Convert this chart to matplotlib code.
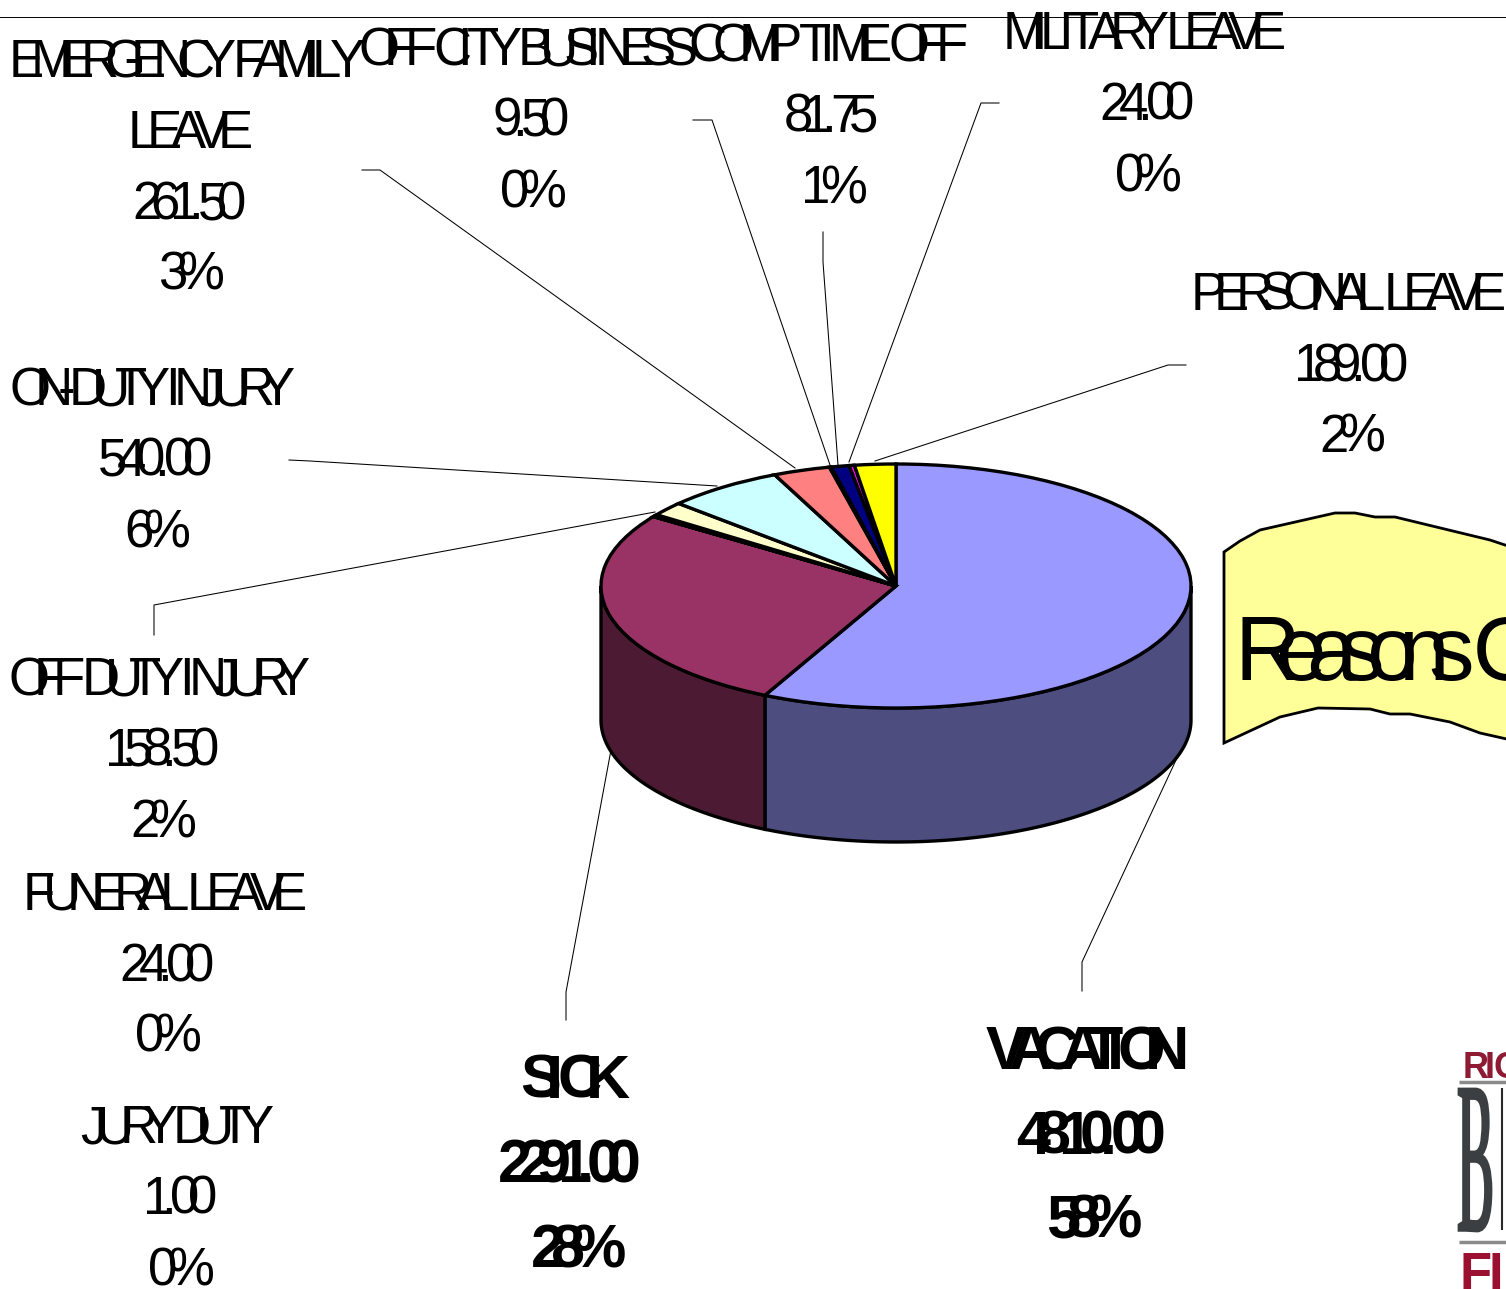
# leave_pie.py
import numpy as np
import matplotlib
matplotlib.use("Agg")
import matplotlib.pyplot as plt
from matplotlib.font_manager import findfont, get_font, FontProperties
from matplotlib.ft2font import LoadFlags
from matplotlib.patches import PathPatch, Polygon
from matplotlib.path import Path
from matplotlib.text import Text
from matplotlib.textpath import TextPath
from matplotlib.transforms import Affine2D, Bbox, IdentityTransform

categories = ["VACATION", "SICK", "JURY DUTY", "FUNERAL LEAVE", "OFF DUTY INJURY",
              "ON-DUTY INJURY", "EMERGENCY FAMILY|LEAVE", "OFF CITY BUSINESS",
              "COMP TIME OFF", "MILITARY LEAVE", "PERSONAL LEAVE"]
hours = [4810.00, 2291.00, 1.00, 24.00, 158.50, 540.00, 261.50, 9.50, 81.75, 24.00, 189.00]
percents = ["58%", "28%", "0%", "0%", "2%", "6%", "3%", "0%", "1%", "0%", "2%"]
colors = ["#9999FF", "#993366", "#660066", "#CCCCFF", "#FFFFCC", "#CCFFFF",
          "#FF8080", "#0066CC", "#000080", "#FF00FF", "#FFFF00"]

W, H = 1506, 1289

# label layout in pixels: centre x of each line, first baseline
label_x = [(1087, 1091, 1094), (575, 569, 578), (177, 180, 181), (165, 167, 168),
           (159, 162, 163), (152, 155, 157), (187, 190, 189, 191), (528, 531, 533),
           (828, 831, 834), (1144, 1147, 1148), (1348, 1351, 1352)]
label_y = [1069, 1098, 1143, 910, 695, 405, 77, 65, 61, 49, 310]

# how tight each line is set, where it differs from the default
line_squeeze = {"ON-DUTY INJURY": 0.61, "OFF DUTY INJURY": 0.615, "JURY DUTY": 0.61,
                "LEAVE": 0.67, "EMERGENCY FAMILY": 0.63, "OFF CITY BUSINESS": 0.625,
                "MILITARY LEAVE": 0.63, "FUNERAL LEAVE": 0.63, "1.00": 0.62,
                "VACATION": 0.58, "SICK": 0.65, "2291.00": 0.58, "4810.00": 0.62,
                "58%": 0.6, "28%": 0.6}

leaders = [[(1082, 991), (1082, 962), (1183, 745)],
           [(566, 1020), (566, 992), (611, 750)],
           [(154, 635), (154, 605), (655, 512)],
           [(289, 460), (310, 461), (717, 486)],
           [(362, 170), (380, 170), (795, 468)],
           [(693, 120), (712, 120), (830, 465)],
           [(823, 232), (823, 262), (838, 465)],
           [(999, 103), (981, 103), (849, 462)],
           [(1186, 365), (1168, 365), (875, 461)]]

banner = [(1224, 552), (1240, 541), (1260, 530), (1335, 513), (1355, 513), (1375, 517),
          (1395, 517), (1490, 540), (1520, 550), (1520, 742), (1480, 733), (1450, 722),
          (1410, 714), (1390, 714), (1370, 709), (1318, 708), (1280, 717), (1224, 743)]


class TightText(Text):
    # a line of text with the glyph advances squeezed, text stays one string
    def __init__(self, x, y, s, squeeze=0.64, **kw):
        super().__init__(x, y, s, **kw)
        self.squeeze = squeeze

    def _pen(self):
        prop = self.get_fontproperties()
        font = get_font(findfont(prop))
        font.set_size(prop.get_size_in_points(), self.get_figure().dpi)
        adv = []
        for ch in self.get_text():
            g = font.load_char(ord(ch), flags=LoadFlags.NO_HINTING)
            adv.append(g.linearHoriAdvance / 65536)
        pos = np.concatenate([[0], np.cumsum(adv[:-1])]) * self.squeeze
        return pos, pos[-1] + adv[-1]

    def _origin(self):
        pos, total = self._pen()
        x, y = self.get_transform().transform(self.get_position())
        return x - total / 2, y, pos, total

    def get_window_extent(self, renderer=None, dpi=None):
        x, y, pos, total = self._origin()
        size = self.get_fontproperties().get_size_in_points() * self.get_figure().dpi / 72
        return Bbox.from_bounds(x, y - 0.2 * size, total, 0.95 * size)

    def draw(self, renderer):
        x, y, pos, total = self._origin()
        for ch, dx in zip(self.get_text(), pos):
            t = Text(x + dx, y, ch, color=self.get_color(), va="baseline", ha="left",
                     fontproperties=self.get_fontproperties(),
                     transform=IdentityTransform())
            t.set_figure(self.get_figure())
            t.draw(renderer)


fig = plt.figure(figsize=(W / 100, H / 100), dpi=100, facecolor="white")
bg = fig.add_axes([0, 0, 1, 1])
bg.set_xlim(0, W)
bg.set_ylim(H, 0)
bg.axis("off")


def put(x, y, s, size, weight="normal", squeeze=0.64, color="black"):
    t = TightText(x, y, s, squeeze=squeeze, color=color, transform=bg.transData,
                  fontproperties=FontProperties(family="Liberation Sans", size=size, weight=weight))
    bg.add_artist(t)
    t.set_clip_on(False)


# top rule and leader lines
bg.plot([0, W], [17, 17], color="black", lw=0.7)
for pts in leaders:
    bg.plot([p[0] for p in pts], [p[1] for p in pts], color="black", lw=0.75)

# title banner, runs off the right edge
bg.add_patch(Polygon(banner, closed=True, facecolor="#FFFF99", edgecolor="black", lw=2))
put(1389, 680, "Reasons O", 65.5, squeeze=0.62)

# labels
for i, cat in enumerate(categories):
    bold = i < 2
    lines = cat.split("|") + [f"{hours[i]:.2f}", percents[i]]
    pitch = 84.5 if bold else 71
    for j, line in enumerate(lines):
        put(label_x[i][j], label_y[i] + j * pitch, line, 44 if bold else 38,
            weight="bold" if bold else "normal", squeeze=line_squeeze.get(line, 0.64))

# pie, squashed into an ellipse with a wall below it
rx, ry, depth_px = 295, 122, 134
cx, cy = 896, 586
left, top, bottom = cx - rx, cy - ry, cy + ry + depth_px
ax = fig.add_axes([left / W, 1 - bottom / H, 2 * rx / W, (bottom - top) / H])
depth = depth_px / ry

edges = np.concatenate([[0], np.cumsum(hours)]) / np.sum(hours) * 360
walls = [(90, edges[1], "#4D4D80"), (edges[1], 270, "#4D1A33")]
for a0, a1, c in walls:
    th = np.radians(np.linspace(a0, a1, 120))
    xs = np.concatenate([np.sin(th), np.sin(th[::-1])])
    ys = np.concatenate([np.cos(th), np.cos(th[::-1]) - depth])
    ax.fill(xs, ys, facecolor=c, edgecolor="black", lw=2.4, clip_on=False)

wedges, _ = ax.pie(hours, colors=colors, startangle=90, counterclock=False, radius=1,
                   wedgeprops=dict(edgecolor="black", linewidth=2.4))
for w in wedges:
    w.set_clip_on(False)
ax.set_aspect("auto")
ax.set_xlim(-1, 1)
ax.set_ylim(-1 - depth, 1)
ax.patch.set_visible(False)

# logo in the corner, cut by the edge
put(1491, 1078, "RIC", 26, weight="bold", squeeze=0.85, color="#8E1B33")
bg.plot([1459, W], [1082, 1082], color="#8A8A8A", lw=2.5, solid_capstyle="butt")
glyph = TextPath((0, 0), "B", size=100, prop=FontProperties(family="Liberation Serif"))
ext = glyph.get_extents()
tr = (Affine2D().translate(-ext.x0, -ext.y0).scale(32 / ext.width, -142 / ext.height)
      .translate(1459, 1231))
bg.add_patch(PathPatch(Path(tr.transform(glyph.vertices), glyph.codes),
                       facecolor="#3C3F42", edgecolor="#3C3F42", lw=2))
bg.plot([1502, 1502], [1088, 1230], color="#2A2A2A", lw=1.5, solid_capstyle="butt")
bg.plot([1459, W], [1242, 1242], color="#8A8A8A", lw=2.5, solid_capstyle="butt")
put(1481, 1290, "FI", 38, weight="bold", squeeze=0.9, color="#9B1030")

fig.savefig("out.png", dpi=100)
